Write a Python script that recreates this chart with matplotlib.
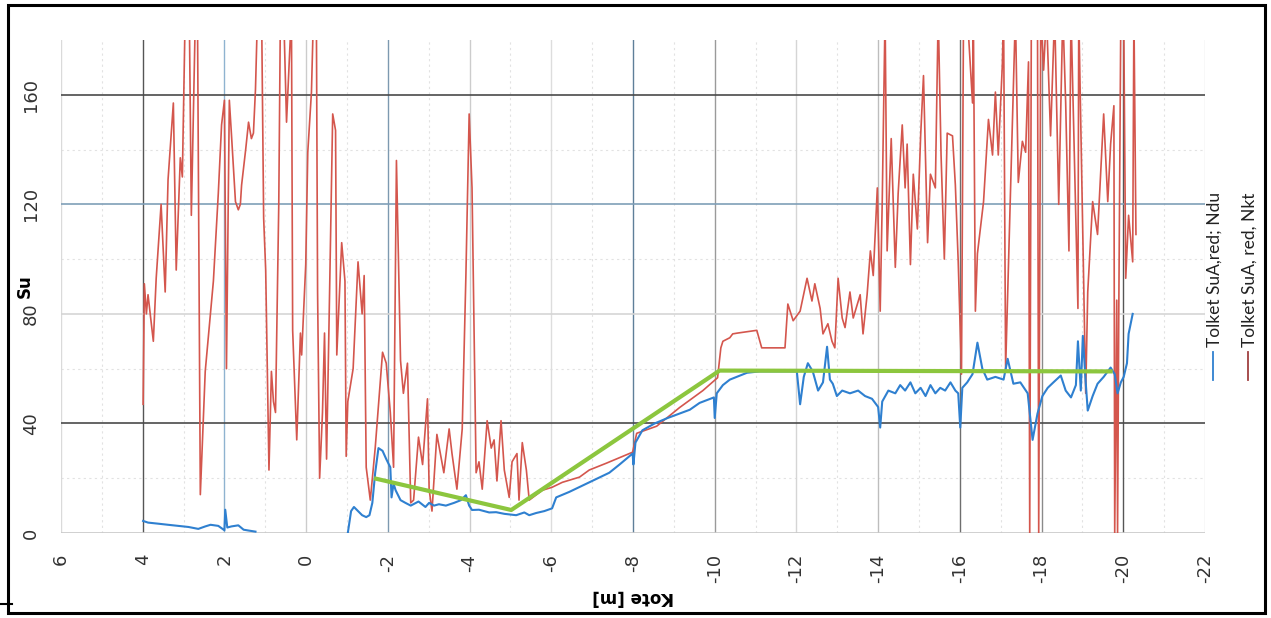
import numpy as np
import matplotlib.pyplot as plt
from matplotlib.lines import Line2D
from matplotlib.patches import Rectangle

# Su-Werte gegen Kote [m], abgelesen aus dem Scan
# Nkt (rot) in drei Stuecken, Werte ueber 180 laufen oben aus dem Bild
nkt_x_a = [3.99, 3.96, 3.91, 3.87, 3.74, 3.67, 3.55, 3.45, 3.38, 3.25,
           3.18, 3.08, 3.03, 2.96, 2.86, 2.81, 2.71, 2.66, 2.59, 2.47,
           2.27, 2.15, 2.07, 2.00, 1.95, 1.88, 1.83, 1.73, 1.66, 1.61,
           1.58, 1.48, 1.41, 1.34, 1.29, 1.24, 1.19, 1.09, 1.04, 0.99,
           0.91, 0.85, 0.80, 0.75, 0.67, 0.63, 0.55, 0.48, 0.36, 0.33,
           0.23, 0.14, 0.11, 0.01, -0.04, -0.13, -0.18, -0.25, -0.28, -0.33,
           -0.40, -0.45, -0.50, -0.58, -0.65, -0.72, -0.75, -0.87, -0.95, -0.98,
           -1.02, -1.15, -1.27, -1.37, -1.42, -1.47, -1.57, -1.69, -1.87, -1.96,
           -2.06, -2.14, -2.21, -2.31, -2.38, -2.48, -2.56, -2.63, -2.75, -2.85,
           -2.97, -3.01, -3.08, -3.20, -3.37, -3.50, -3.57, -3.69, -3.82, -3.91,
           -3.99, -4.06, -4.16, -4.23, -4.31, -4.43, -4.53, -4.60, -4.67, -4.77,
           -4.85, -4.97, -5.04, -5.16, -5.21, -5.29, -5.39, -5.46]
nkt_y_a = [47, 91, 80, 87, 70, 93, 120, 88, 129, 157,
           96, 137, 130, 190, 190, 116, 190, 190, 14, 59,
           92, 124, 149, 158, 60, 158, 146, 121, 118, 120,
           127, 140, 150, 144, 146, 162, 190, 190, 115, 96,
           23, 59, 48, 44, 120, 190, 190, 150, 190, 74,
           34, 73, 65, 98, 139, 161, 190, 190, 88, 20,
           44, 73, 27, 93, 153, 147, 65, 106, 92, 28,
           48, 60, 99, 80, 94, 24, 12, 31, 66, 62,
           44, 24, 136, 63, 51, 62, 11, 12, 35, 25,
           49, 16, 8, 36, 22, 38, 29, 16, 38, 94,
           153, 126, 22, 26, 16, 41, 31, 34, 19, 41,
           23, 13, 26, 29, 12, 33, 23, 12]

nkt_x_b = [-5.78, -6.02, -6.27, -6.69, -6.93, -7.35, -7.99, -8.09, -8.58, -9.14,
           -9.71, -10.07, -10.15, -10.20, -10.37, -10.44, -10.56, -11.03, -11.15, -11.72,
           -11.79, -11.92, -12.09, -12.26, -12.38, -12.45, -12.58, -12.65, -12.77, -12.87,
           -12.94, -13.02, -13.12, -13.19, -13.31, -13.39, -13.56, -13.63, -13.73, -13.81,
           -13.88, -13.98]
nkt_y_b = [15.6, 16.7, 18.5, 20.4, 23, 25.5, 29.5, 36.4, 39, 45.8,
           52, 56.7, 67.6, 70, 71.3, 72.7, 73, 74, 67.6, 67.6,
           83.6, 77.5, 81, 93, 84.7, 91, 82, 72.7, 76.4, 70,
           67.6, 93, 78.5, 75, 88, 78.5, 87, 72.7, 87, 103,
           94, 126]

nkt_x_c = [-14.05, -14.10, -14.17, -14.22, -14.32, -14.42, -14.49, -14.59, -14.66, -14.71,
           -14.79, -14.86, -14.96, -15.04, -15.11, -15.21, -15.28, -15.40, -15.47, -15.54,
           -15.62, -15.69, -15.82, -15.89, -15.96, -16.04, -16.09, -16.18, -16.31, -16.33,
           -16.38, -16.43, -16.58, -16.70, -16.80, -16.87, -16.94, -17.04, -17.07, -17.12,
           -17.19, -17.36, -17.43, -17.53, -17.61, -17.68, -17.71, -17.75, -17.90, -17.93,
           -17.98, -18.05, -18.12, -18.22, -18.32, -18.42, -18.52, -18.59, -18.67, -18.72,
           -18.89, -18.91, -19.03, -19.08, -19.13, -19.25, -19.37, -19.52, -19.62, -19.69,
           -19.77, -19.79, -19.84, -19.86, -19.89, -19.94, -20.01, -20.06, -20.13, -20.23,
           -20.26, -20.31]
nkt_y_c = [81, 121, 190, 103, 144, 97, 124, 149, 126, 142,
           98, 131, 111, 145, 167, 106, 131, 126, 190, 138,
           100, 146, 145, 127, 99, 58, 190, 190, 157, 190,
           81, 102, 121, 151, 138, 161, 138, 171, 190, 60,
           98, 190, 128, 143, 139, 172, 0, 190, 190, 0,
           190, 169, 190, 145, 190, 120, 190, 157, 103, 190,
           82, 190, 91, 51, 88, 121, 109, 153, 121, 142,
           156, 0, 85, 0, 81, 190, 190, 93, 116, 99,
           190, 109]

# Ndu (blau), zwei getrennte Stuecke
ndu_x1 = [3.99, 3.87, 3.62, 3.38, 3.13, 2.88, 2.64, 2.47, 2.34, 2.15,
          2.00, 1.98, 1.93, 1.83, 1.66, 1.53, 1.41, 1.24]
ndu_y1 = [4.4, 3.8, 3.4, 3.0, 2.6, 2.2, 1.5, 2.4, 3.0, 2.6,
          1.0, 8.5, 2.0, 2.4, 2.8, 1.2, 0.9, 0.5]

ndu_x2 = [-1.02, -1.10, -1.17, -1.27, -1.37, -1.47, -1.55, -1.62, -1.69, -1.77,
          -1.87, -1.96, -2.06, -2.09, -2.14, -2.19, -2.31, -2.43, -2.56, -2.75,
          -2.92, -3.01, -3.13, -3.25, -3.42, -3.62, -3.79, -3.91, -3.99, -4.06,
          -4.23, -4.48, -4.65, -4.85, -4.97, -5.14, -5.34, -5.46, -5.63, -5.83,
          -6.02, -6.12, -6.44, -6.93, -7.42, -7.67, -7.99, -8.01, -8.06, -8.23,
          -8.53, -8.85, -9.14, -9.39, -9.63, -9.98, -10.00, -10.05, -10.20, -10.37,
          -10.54, -10.79, -11.10, -11.47, -11.84, -12.01, -12.09, -12.18, -12.28, -12.40,
          -12.53, -12.65, -12.75, -12.82, -12.89, -12.99, -13.12, -13.31, -13.51, -13.68,
          -13.85, -14.00, -14.05, -14.10, -14.25, -14.42, -14.54, -14.66, -14.79, -14.91,
          -15.04, -15.16, -15.28, -15.40, -15.52, -15.64, -15.77, -15.89, -15.96, -16.01,
          -16.06, -16.18, -16.31, -16.43, -16.55, -16.67, -16.87, -17.07, -17.17, -17.31,
          -17.48, -17.66, -17.78, -17.90, -18.02, -18.15, -18.29, -18.47, -18.59, -18.72,
          -18.84, -18.89, -18.96, -19.01, -19.08, -19.13, -19.25, -19.37, -19.52, -19.69,
          -19.79, -19.86, -19.94, -20.01, -20.09, -20.13, -20.23]
ndu_y2 = [0, 8, 9.5, 8, 6.5, 5.8, 6.5, 11, 22, 31,
          30, 27, 24, 13, 18, 15.6, 12, 11, 10, 11.5,
          9.5, 11, 10, 10.5, 10, 11, 12, 13.8, 10, 8.4,
          8.5, 7.5, 7.6, 7, 6.8, 6.5, 7.5, 6.5, 7.3, 8,
          9, 13, 15, 18.5, 22, 25, 29, 25, 33, 37.5,
          40, 42, 43.6, 45, 47.5, 49.5, 42, 51, 54, 56,
          57, 58.5, 59, 59, 59, 59, 47, 57, 62, 59,
          52, 55, 68, 56, 54.5, 50, 52, 51, 52, 50,
          49, 46, 38.5, 48, 52, 51, 54, 52, 55, 51,
          53, 50, 54, 51, 53, 52, 55, 52, 51, 38.5,
          53, 55, 58, 69.5, 60, 56, 57, 56, 63.6, 54.5,
          55, 51, 34, 43.6, 50, 53, 55, 57.5, 52, 49.5,
          54, 70, 52, 72, 55, 44.7, 50, 54.5, 57, 60.4,
          58, 51, 55, 57, 62, 72.7, 80]

# gruene Bemessungslinie
design_x = [-1.66, -5.02, -10.12, -19.74]
design_y = [20, 8.4, 59.3, 59]

x_ticks = list(range(6, -23, -2))
y_ticks = [0, 40, 80, 120, 160]

# Farben der Gitterlinien wie im Scan (teils dunkel, teils blaeulich)
vgrid_col = {6: "#dadada", 4: "#555555", 2: "#8fb3d0", 0: "#cccccc", -2: "#7d99b0",
             -4: "#cccccc", -6: "#dddddd", -8: "#5f7f99", -10: "#9a9a9a", -12: "#d5d5d5",
             -14: "#bdbdbd", -16: "#6e6e6e", -18: "#8a8a8a", -20: "#555555", -22: "#dddddd"}
hgrid_col = {0: "#c8c8c8", 40: "#4a4a4a", 80: "#d5d5d5", 120: "#7f9fb8", 160: "#4a4a4a"}

W, H = 1271, 618
fig = plt.figure(figsize=(W / 100, H / 100), dpi=100)
ax = fig.add_axes([61 / W, 85 / H, 1144 / W, 493 / H])
ax.set_xlim(6, -22)
ax.set_ylim(0, 180)

for xv in range(5, -23, -2):
    ax.axvline(xv, color="#e2e2e2", lw=0.8, ls=(0, (2, 3)), zorder=0)
for yv in [20, 60, 100, 140]:
    ax.axhline(yv, color="#e2e2e2", lw=0.8, ls=(0, (2, 3)), zorder=0)
for xv, c in vgrid_col.items():
    ax.axvline(xv, color=c, lw=1.0, zorder=0.5)
for yv, c in hgrid_col.items():
    ax.axhline(yv, color=c, lw=1.2, zorder=0.5)

nkt_x = nkt_x_a + nkt_x_b + nkt_x_c
nkt_y = nkt_y_a + nkt_y_b + nkt_y_c
ax.plot(nkt_x, nkt_y, color="#d4564d", lw=1.2, zorder=2)
ax.plot(ndu_x1, ndu_y1, color="#2f80d0", lw=1.5, zorder=3)
ax.plot(ndu_x2, ndu_y2, color="#2f80d0", lw=1.5, zorder=3)
ax.plot(design_x, design_y, color="#8cc63e", lw=3, zorder=4, solid_capstyle="butt")

for s in ax.spines.values():
    s.set_visible(False)

ax.set_xticks(x_ticks)
ax.set_xticklabels([str(v) for v in x_ticks], rotation=90)
ax.set_yticks(y_ticks)
ax.set_yticklabels([str(v) for v in y_ticks], rotation=90, va="center")
ax.tick_params(axis="x", length=0, pad=15, labelsize=13, labelcolor="#333333")
ax.tick_params(axis="y", length=0, pad=15, labelsize=13, labelcolor="#333333")

fig.text(25 / W, 1 - 286 / H, "Su", rotation=90, ha="center", va="center",
         fontsize=12, fontweight="bold")
fig.text(633 / W, 1 - 597 / H, "Kote [m]", rotation=180, ha="center", va="center",
         fontsize=12, fontweight="bold")

# Legende (gedreht, wie im Scan)
leg = [("Tolket SuA,red; Ndu", "#2f80d0", 1215), ("Tolket SuA, red, Nkt", "#a04040", 1250)]
for txt, c, px in leg:
    fig.text(px / W, 1 - 347 / H, txt, rotation=90, ha="center", va="bottom",
             fontsize=12.5, family=["Lato", "DejaVu Sans"], color="#222222")
    fig.add_artist(Line2D([(px - 2) / W] * 2, [1 - 352 / H, 1 - 380 / H],
                          color=c, lw=1.3, transform=fig.transFigure))

# Rahmen des Scans
fig.add_artist(Rectangle((8 / W, 5 / H), 1257 / W, 608 / H, fill=False,
                         lw=2.2, ec="black", transform=fig.transFigure))
fig.add_artist(Line2D([0, 12 / W], [1 - 604 / H] * 2, color="black", lw=1.5,
                      transform=fig.transFigure))

fig.savefig("out.png", dpi=100)
